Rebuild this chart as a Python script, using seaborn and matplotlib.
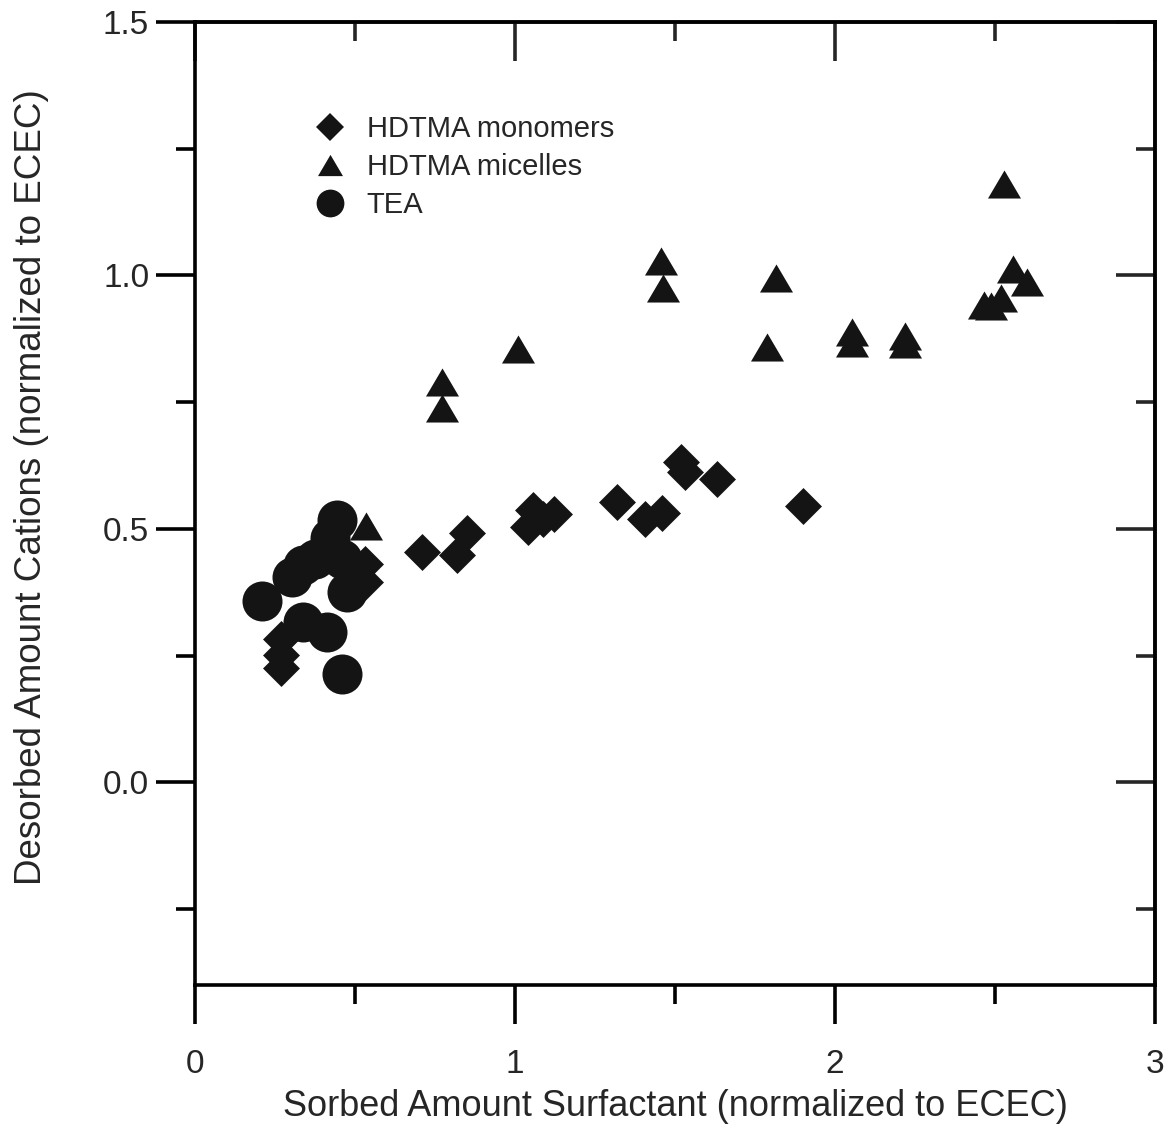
import numpy as np
import pandas as pd
import matplotlib
matplotlib.use("Agg")
import matplotlib.pyplot as plt
from matplotlib.lines import Line2D
from matplotlib.path import Path
from matplotlib import font_manager
import seaborn as sns

# HDTMA monomers
mono_x = [0.27, 0.27, 0.27, 0.53, 0.53, 0.71, 0.82, 0.85, 1.04, 1.055, 1.087, 1.122,
          1.32, 1.405, 1.46, 1.518, 1.53, 1.63, 1.90]
mono_y = [0.283, 0.251, 0.225, 0.431, 0.395, 0.455, 0.448, 0.491, 0.504, 0.537, 0.52, 0.53,
          0.553, 0.519, 0.532, 0.632, 0.613, 0.598, 0.545]

# HDTMA micelles
mic_x = [0.535, 0.773, 0.773, 1.009, 1.455, 1.461, 1.789, 1.815, 2.053, 2.053,
         2.218, 2.218, 2.466, 2.486, 2.518, 2.528, 2.555, 2.60]
mic_y = [0.506, 0.79, 0.738, 0.855, 1.028, 0.976, 0.858, 0.995, 0.888, 0.866,
         0.881, 0.864, 0.941, 0.94, 0.955, 1.181, 1.013, 0.986]

# TEA
tea_x = [0.444, 0.423, 0.46, 0.376, 0.339, 0.303, 0.475, 0.209, 0.339, 0.413, 0.46]
tea_y = [0.518, 0.481, 0.441, 0.441, 0.428, 0.405, 0.375, 0.358, 0.316, 0.296, 0.214]

series_labels = ["HDTMA monomers", "HDTMA micelles", "TEA"]
x_major = [0, 1, 2, 3]
x_minor = [0.5, 1.5, 2.5]
y_major = [0.0, 0.5, 1.0, 1.5]
y_minor = [-0.25, 0.25, 0.75, 1.25]
y_major_labels = ["0.0", "0.5", "1.0", "1.5"]

sns.set_theme(style="white")
available = {f.name for f in font_manager.fontManager.ttflist}
families = [f for f in ["Liberation Sans Narrow", "Liberation Sans", "DejaVu Sans"] if f in available]
plt.rcParams["font.family"] = families

ink = "#141414"
lw = 2.6

fig = plt.figure(figsize=(11.74, 11.44), dpi=100)
ax = fig.add_axes([0.1661, 0.1390, 0.8177, 0.8418])

df_mono = pd.DataFrame({"x": mono_x, "y": mono_y})
df_mic = pd.DataFrame({"x": mic_x, "y": mic_y})
df_tea = pd.DataFrame({"x": tea_x, "y": tea_y})

tri = Path([(0, 0.85), (-1, -0.85), (1, -0.85), (0, 0.85)],
           [Path.MOVETO, Path.LINETO, Path.LINETO, Path.CLOSEPOLY])

sns.scatterplot(data=df_mono, x="x", y="y", marker="D", s=354, color=ink,
                linewidth=0, legend=False, ax=ax, zorder=3)
sns.scatterplot(data=df_mic, x="x", y="y", marker=tri, s=565, color=ink,
                linewidth=0, legend=False, ax=ax, zorder=4)
sns.scatterplot(data=df_tea, x="x", y="y", marker="o", s=830, color=ink,
                linewidth=0, legend=False, ax=ax, zorder=5)

ax.set_xlim(0, 3)
ax.set_ylim(-0.4, 1.5)

for sp in ax.spines.values():
    sp.set_linewidth(lw)
    sp.set_color("black")
    sp.set_visible(True)

ax.set_xticks(x_major)
ax.set_xticks(x_minor, minor=True)
ax.set_yticks(y_major)
ax.set_yticks(y_minor, minor=True)
ax.set_yticklabels(y_major_labels)
ax.tick_params(axis="both", which="both", direction="out", width=lw, color="black",
               bottom=True, left=True, top=False, right=False)
ax.tick_params(axis="both", which="major", length=28)
ax.tick_params(axis="both", which="minor", length=14)
ax.tick_params(axis="x", which="major", labelsize=24, pad=18)
ax.tick_params(axis="y", which="major", labelsize=24, pad=5)

# inward ticks along the top and right edges
secx = ax.secondary_xaxis("top")
secx.set_xticks(x_major)
secx.set_xticks(x_minor, minor=True)
secx.tick_params(axis="x", which="both", direction="in", width=lw, labeltop=False)
secx.tick_params(axis="x", which="major", length=28)
secx.tick_params(axis="x", which="minor", length=14)
secy = ax.secondary_yaxis("right")
secy.set_yticks(y_major)
secy.set_yticks(y_minor, minor=True)
secy.tick_params(axis="y", which="both", direction="in", width=lw, labelright=False)
secy.tick_params(axis="y", which="major", length=28)
secy.tick_params(axis="y", which="minor", length=14)
for s in (secx, secy):
    for sp in s.spines.values():
        sp.set_linewidth(lw)

ax.set_xlabel("Sorbed Amount Surfactant (normalized to ECEC)", fontsize=26)
ax.set_ylabel("Desorbed Amount Cations (normalized to ECEC)", fontsize=26.5)
ax.xaxis.set_label_coords(0.5, -0.108)
ax.yaxis.set_label_coords(-0.152, 0.517)

handles = [
    Line2D([], [], ls="none", marker="D", markersize=14.5, color=ink, mew=0),
    Line2D([], [], ls="none", marker=tri, markersize=18, color=ink, mew=0),
    Line2D([], [], ls="none", marker="o", markersize=20, color=ink, mew=0),
]
ax.legend(handles, series_labels, loc="upper left", bbox_to_anchor=(0.122, 0.903),
          frameon=False, fontsize=21, handlelength=1.2, handletextpad=0.67,
          labelspacing=0.34, borderpad=0, borderaxespad=0)

fig.savefig("out.png", dpi=100)
